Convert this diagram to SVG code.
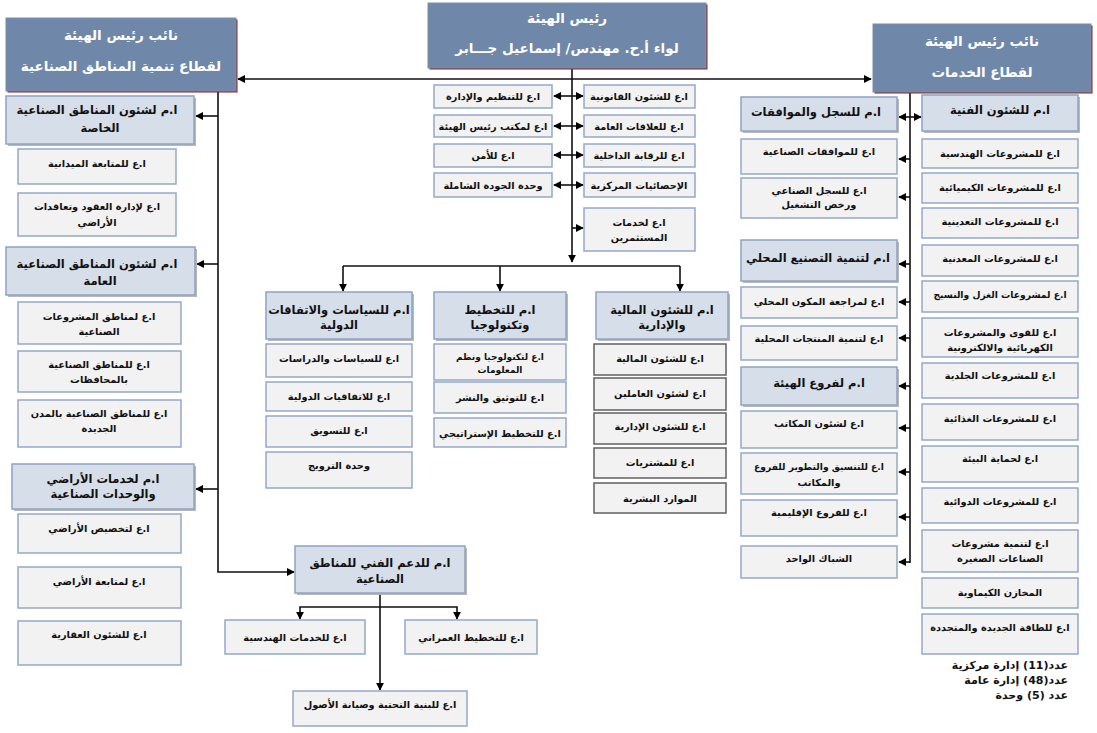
<svg xmlns="http://www.w3.org/2000/svg" width="1097" height="733" viewBox="0 0 1097 733">
<defs>
<marker id="ah" viewBox="0 0 10 10" refX="9" refY="5" markerWidth="8" markerHeight="8" markerUnits="userSpaceOnUse" orient="auto-start-reverse"><path d="M0,0 L10,5 L0,10 z" fill="#000"/></marker>
</defs>
<style>
text{font-family:"DejaVu Sans","Liberation Sans",sans-serif;font-weight:bold;text-anchor:middle;dominant-baseline:central;direction:rtl;fill:#111}
.tt{fill:#fff;font-size:13.5px}
.mt{font-size:11.5px}
.st{font-size:9.8px}
.sm{font-size:9px}
.top{fill:#6f88a9;stroke:#7d8fa8;stroke-width:1}
.tsh{fill:#8b1f1f}
.mg{fill:#d6dee9;stroke:#8ea3c4;stroke-width:1.5}
.msh{fill:#b8b8b8}
.sb{fill:#f2f2f2;stroke:#95a9c9;stroke-width:1.5}
.fb{fill:#f2f2f2;stroke:#606060;stroke-width:1.5}
.cn{fill:none;stroke:#111;stroke-width:1.6}
.ft{font-size:11px;text-anchor:start}
</style>
<rect width="1097" height="733" fill="#fff"/>

<g id="connectors">
<path class="cn" d="M238 79 H871" marker-start="url(#ah)" marker-end="url(#ah)"/>
<path class="cn" d="M572 68 V262" marker-end="url(#ah)"/>
<path class="cn" d="M343 266 H680"/>
<path class="cn" d="M343 266 V291" marker-end="url(#ah)"/>
<path class="cn" d="M500 266 V291" marker-end="url(#ah)"/>
<path class="cn" d="M680 266 V291" marker-end="url(#ah)"/>
<path class="cn" d="M554 96 H583" marker-start="url(#ah)" marker-end="url(#ah)"/>
<path class="cn" d="M554 126 H583" marker-start="url(#ah)" marker-end="url(#ah)"/>
<path class="cn" d="M554 155 H583" marker-start="url(#ah)" marker-end="url(#ah)"/>
<path class="cn" d="M554 185 H583" marker-start="url(#ah)" marker-end="url(#ah)"/>
<path class="cn" d="M572 228 H583" marker-end="url(#ah)"/>
<path class="cn" d="M218 91 V572 H294" marker-end="url(#ah)"/>
<path class="cn" d="M218 116 H196" marker-end="url(#ah)"/>
<path class="cn" d="M218 264 H197" marker-end="url(#ah)"/>
<path class="cn" d="M218 489 H196" marker-end="url(#ah)"/>
<path class="cn" d="M380 593 V690" marker-end="url(#ah)"/>
<path class="cn" d="M380 607 H300 V619" marker-end="url(#ah)"/>
<path class="cn" d="M380 607 H457 V619" marker-end="url(#ah)"/>
<path class="cn" d="M910 92 V563"/>
<path class="cn" d="M899 117 H921" marker-start="url(#ah)" marker-end="url(#ah)"/>
<path class="cn" d="M910 159 H899" marker-end="url(#ah)"/>
<path class="cn" d="M910 197 H899" marker-end="url(#ah)"/>
<path class="cn" d="M910 264 H899" marker-end="url(#ah)"/>
<path class="cn" d="M910 302 H899" marker-end="url(#ah)"/>
<path class="cn" d="M910 338 H899" marker-end="url(#ah)"/>
<path class="cn" d="M910 386 H899" marker-end="url(#ah)"/>
<path class="cn" d="M910 428 H899" marker-end="url(#ah)"/>
<path class="cn" d="M910 472 H899" marker-end="url(#ah)"/>
<path class="cn" d="M910 517 H899" marker-end="url(#ah)"/>
<path class="cn" d="M910 562 H899" marker-end="url(#ah)"/>
</g>

<!-- top level -->
<g id="vp-zones"><rect class="tsh" x="7.5" y="19.5" width="230" height="73"/><rect class="top" x="6" y="18" width="230" height="73"/>
<text class="tt" x="121" y="35">نائب رئيس الهيئة</text><text class="tt" x="121" y="66">لقطاع تنمية المناطق الصناعية</text></g>
<g id="chairman"><rect class="tsh" x="429.5" y="4.5" width="278" height="65"/><rect class="top" x="428" y="3" width="278" height="65"/>
<text class="tt" x="567" y="18">رئيس الهيئة</text><text class="tt" x="567" y="48">لواء أ.ح. مهندس/ إسماعيل جـــابر</text></g>
<g id="vp-services"><rect class="tsh" x="874.5" y="25.5" width="218" height="68"/><rect class="top" x="873" y="24" width="218" height="68"/>
<text class="tt" x="982" y="41">نائب رئيس الهيئة</text><text class="tt" x="982" y="72">لقطاع الخدمات</text></g>

<!-- left column -->
<g id="m-special"><rect class="msh" x="8" y="98" width="188" height="48"/><rect class="mg" x="6" y="96" width="188" height="48"/>
<text class="mt" x="97" y="110">ا.م لشئون المناطق الصناعية</text><text class="mt" x="100" y="128">الخاصة</text></g>
<g id="s-field"><rect class="sb" x="18" y="149" width="158" height="35"/><text class="st" x="97" y="163">ا.ع للمتابعة الميدانية</text></g>
<g id="s-contracts"><rect class="sb" x="18" y="193" width="158" height="43"/><text class="st" x="97" y="206">ا.ع لإدارة العقود وتعاقدات</text><text class="st" x="97" y="222">الأراضي</text></g>
<g id="m-general"><rect class="msh" x="8" y="249" width="189" height="48"/><rect class="mg" x="6" y="247" width="189" height="48"/>
<text class="mt" x="97" y="264">ا.م لشئون المناطق الصناعية</text><text class="mt" x="100" y="281">العامة</text></g>
<g id="s-projzones"><rect class="sb" x="18" y="302" width="163" height="42"/><text class="st" x="99" y="316">ا.ع لمناطق المشروعات</text><text class="st" x="99" y="331">الصناعية</text></g>
<g id="s-governorates"><rect class="sb" x="18" y="351" width="163" height="41"/><text class="st" x="99" y="364">ا.ع للمناطق الصناعية</text><text class="st" x="99" y="379">بالمحافظات</text></g>
<g id="s-newcities"><rect class="sb" x="18" y="400" width="163" height="47"/><text class="st" x="99" y="413">ا.ع للمناطق الصناعية بالمدن</text><text class="st" x="99" y="428">الجديدة</text></g>
<g id="m-lands"><rect class="msh" x="14" y="466" width="182" height="45"/><rect class="mg" x="12" y="464" width="182" height="45"/>
<text class="mt" x="103" y="479">ا.م لخدمات الأراضي</text><text class="mt" x="103" y="494">والوحدات الصناعية</text></g>
<g id="s-allocation"><rect class="sb" x="18" y="514" width="163" height="39"/><text class="st" x="99" y="528">ا.ع لتخصيص الأراضي</text></g>
<g id="s-landfollow"><rect class="sb" x="18" y="567" width="163" height="41"/><text class="st" x="99" y="581">ا.ع لمتابعة الأراضي</text></g>
<g id="s-realestate"><rect class="sb" x="18" y="621" width="163" height="44"/><text class="st" x="99" y="634">ا.ع للشئون العقارية</text></g>

<!-- bottom technical support -->
<g id="m-techsupport"><rect class="msh" x="297" y="548" width="170" height="47"/><rect class="mg" x="295" y="546" width="170" height="47"/>
<text class="mt" x="380" y="563">ا.م للدعم الفني للمناطق</text><text class="mt" x="380" y="579">الصناعية</text></g>
<g id="s-engservices"><rect class="sb" x="225" y="620" width="140" height="34"/><text class="st" x="295" y="637">ا.ع للخدمات الهندسية</text></g>
<g id="s-urban"><rect class="sb" x="405" y="620" width="132" height="34"/><text class="st" x="471" y="637">ا.ع للتخطيط العمراني</text></g>
<g id="s-infra"><rect class="sb" x="293" y="691" width="174" height="35"/><text class="st" x="380" y="704">ا.ع للبنية التحتية وصيانة الأصول</text></g>

<!-- center staff -->
<g id="c-org"><rect class="sb" x="434" y="85" width="118" height="23"/><text class="st" x="493" y="96">ا.ع للتنظيم والإدارة</text></g>
<g id="c-office"><rect class="sb" x="434" y="115" width="118" height="22"/><text class="st" x="493" y="126">ا.ع لمكتب رئيس الهيئة</text></g>
<g id="c-security"><rect class="sb" x="434" y="144" width="118" height="23"/><text class="st" x="493" y="155">ا.ع للأمن</text></g>
<g id="c-quality"><rect class="sb" x="434" y="173" width="118" height="24"/><text class="st" x="493" y="185">وحدة الجودة الشاملة</text></g>
<g id="c-legal"><rect class="sb" x="584" y="85" width="111" height="23"/><text class="st" x="639" y="96">ا.ع للشئون القانونية</text></g>
<g id="c-pr"><rect class="sb" x="584" y="115" width="111" height="22"/><text class="st" x="639" y="126">ا.ع للعلاقات العامة</text></g>
<g id="c-audit"><rect class="sb" x="584" y="144" width="111" height="23"/><text class="st" x="639" y="155">ا.ع للرقابة الداخلية</text></g>
<g id="c-stats"><rect class="sb" x="584" y="173" width="111" height="24"/><text class="st" x="639" y="185">الإحصائيات المركزية</text></g>
<g id="c-investors"><rect class="sb" x="584" y="208" width="111" height="43"/><text class="st" x="639" y="222">ا.ع لخدمات</text><text class="st" x="639" y="237">المستثمرين</text></g>

<!-- center three departments -->
<g id="m-policies"><rect class="msh" x="268" y="294" width="146" height="47"/><rect class="mg" x="266" y="292" width="146" height="47"/>
<text class="mt" x="339" y="310">ا.م للسياسات والاتفاقات</text><text class="mt" x="339" y="325">الدولية</text></g>
<g id="s-studies"><rect class="sb" x="266" y="344" width="146" height="33"/><text class="st" x="339" y="358">ا.ع للسياسات والدراسات</text></g>
<g id="s-agreements"><rect class="sb" x="266" y="382" width="146" height="29"/><text class="st" x="339" y="396">ا.ع للاتفاقيات الدولية</text></g>
<g id="s-marketing"><rect class="sb" x="266" y="416" width="146" height="31"/><text class="st" x="339" y="430">ا.ع للتسويق</text></g>
<g id="s-promotion"><rect class="sb" x="266" y="452" width="146" height="36"/><text class="st" x="339" y="465">وحدة الترويج</text></g>

<g id="m-planning"><rect class="msh" x="436" y="294" width="132" height="47"/><rect class="mg" x="434" y="292" width="132" height="47"/>
<text class="mt" x="500" y="310">ا.م للتخطيط</text><text class="mt" x="500" y="325">وتكنولوجيا</text></g>
<g id="s-it"><rect class="sb" x="434" y="344" width="132" height="36"/><text class="sm" x="500" y="357">ا.ع لتكنولوجيا ونظم</text><text class="sm" x="500" y="370">المعلومات</text></g>
<g id="s-docs"><rect class="sb" x="434" y="382" width="132" height="31"/><text class="st" x="500" y="397">ا.ع للتوثيق والنشر</text></g>
<g id="s-strategic"><rect class="sb" x="434" y="418" width="132" height="29"/><text class="st" x="500" y="433">ا.ع للتخطيط الإستراتيجي</text></g>

<g id="m-finance"><rect class="msh" x="598" y="294" width="132" height="47"/><rect class="mg" x="596" y="292" width="132" height="47"/>
<text class="mt" x="662" y="310">ا.م للشئون المالية</text><text class="mt" x="662" y="325">والإدارية</text></g>
<g id="s-financial"><rect class="fb" x="594" y="344" width="132" height="31"/><text class="st" x="660" y="358">ا.ع للشئون المالية</text></g>
<g id="s-staff"><rect class="fb" x="594" y="378" width="132" height="32"/><text class="st" x="660" y="393">ا.ع لشئون العاملين</text></g>
<g id="s-admin"><rect class="fb" x="594" y="413" width="132" height="31"/><text class="st" x="660" y="426">ا.ع للشئون الإدارية</text></g>
<g id="s-purchases"><rect class="fb" x="594" y="448" width="132" height="30"/><text class="st" x="660" y="462">ا.ع للمشتريات</text></g>
<g id="s-hr"><rect class="fb" x="594" y="483" width="132" height="30"/><text class="st" x="660" y="498">الموارد البشرية</text></g>

<!-- right services -->
<g id="m-registry"><rect class="msh" x="743" y="99" width="156" height="34"/><rect class="mg" x="741" y="97" width="156" height="34"/>
<text class="mt" x="816" y="112">ا.م للسجل والموافقات</text></g>
<g id="s-approvals"><rect class="sb" x="741" y="139" width="156" height="35"/><text class="st" x="819" y="151">ا.ع للموافقات الصناعية</text></g>
<g id="s-register"><rect class="sb" x="741" y="178" width="156" height="40"/><text class="st" x="819" y="190">ا.ع للسجل الصناعي</text><text class="st" x="819" y="204">ورخص التشغيل</text></g>
<g id="m-local"><rect class="msh" x="743" y="242" width="156" height="41"/><rect class="mg" x="741" y="240" width="156" height="41"/>
<text class="mt" x="818" y="258">ا.م لتنمية التصنيع المحلي</text></g>
<g id="s-localcomp"><rect class="sb" x="741" y="287" width="156" height="31"/><text class="st" x="819" y="301">ا.ع لمراجعة المكون المحلي</text></g>
<g id="s-localprod"><rect class="sb" x="741" y="326" width="156" height="34"/><text class="st" x="819" y="338">ا.ع لتنمية المنتجات المحلية</text></g>
<g id="m-branches"><rect class="msh" x="743" y="369" width="156" height="38"/><rect class="mg" x="741" y="367" width="156" height="38"/>
<text class="mt" x="819" y="383">ا.م لفروع الهيئة</text></g>
<g id="s-offices"><rect class="sb" x="741" y="411" width="156" height="37"/><text class="st" x="819" y="423">ا.ع لشئون المكاتب</text></g>
<g id="s-coord"><rect class="sb" x="741" y="453" width="156" height="41"/><text class="st" x="819" y="466" style="font-size:9.2px">ا.ع للتنسيق والتطوير للفروع</text><text class="st" x="819" y="482">والمكاتب</text></g>
<g id="s-regional"><rect class="sb" x="741" y="500" width="156" height="36"/><text class="st" x="819" y="512">ا.ع للفروع الإقليمية</text></g>
<g id="s-onestop"><rect class="sb" x="741" y="546" width="156" height="32"/><text class="st" x="819" y="558">الشباك الواحد</text></g>

<g id="m-technical"><rect class="msh" x="924" y="97" width="156" height="36"/><rect class="mg" x="922" y="95" width="156" height="36"/>
<text class="mt" x="1000" y="110">ا.م للشئون الفنية</text></g>
<g id="s-eng"><rect class="sb" x="922" y="139" width="156" height="29"/><text class="st" x="1000" y="153">ا.ع للمشروعات الهندسية</text></g>
<g id="s-chem"><rect class="sb" x="922" y="173" width="156" height="30"/><text class="st" x="1000" y="187">ا.ع للمشروعات الكيميائية</text></g>
<g id="s-mining"><rect class="sb" x="922" y="208" width="156" height="30"/><text class="st" x="1000" y="221">ا.ع للمشروعات التعدينية</text></g>
<g id="s-metal"><rect class="sb" x="922" y="245" width="156" height="31"/><text class="st" x="1000" y="258">ا.ع للمشروعات المعدنية</text></g>
<g id="s-textile"><rect class="sb" x="922" y="281" width="156" height="31"/><text class="st" x="1000" y="294" style="font-size:9.2px">ا.ع لمشروعات الغزل والنسيج</text></g>
<g id="s-power"><rect class="sb" x="922" y="318" width="156" height="39"/><text class="st" x="1000" y="332">ا.ع للقوى والمشروعات</text><text class="st" x="1000" y="347">الكهربائية والالكترونية</text></g>
<g id="s-leather"><rect class="sb" x="922" y="363" width="156" height="35"/><text class="st" x="1000" y="375">ا.ع للمشروعات الجلدية</text></g>
<g id="s-food"><rect class="sb" x="922" y="404" width="156" height="36"/><text class="st" x="1000" y="418">ا.ع للمشروعات الغذائية</text></g>
<g id="s-env"><rect class="sb" x="922" y="446" width="156" height="36"/><text class="st" x="1000" y="458">ا.ع لحماية البيئة</text></g>
<g id="s-pharma"><rect class="sb" x="922" y="488" width="156" height="35"/><text class="st" x="1000" y="501">ا.ع للمشروعات الدوائية</text></g>
<g id="s-small"><rect class="sb" x="922" y="530" width="156" height="42"/><text class="st" x="1000" y="543">ا.ع لتنمية مشروعات</text><text class="st" x="1000" y="558">الصناعات الصغيرة</text></g>
<g id="s-stores"><rect class="sb" x="922" y="578" width="156" height="30"/><text class="st" x="1000" y="592">المخازن الكيماوية</text></g>
<g id="s-energy"><rect class="sb" x="922" y="614" width="156" height="40"/><text class="st" x="1000" y="627">ا.ع للطاقة الجديدة والمتجددة</text></g>

<g id="footer">
<text class="ft" x="1068" y="665">عدد(11) إدارة مركزية</text>
<text class="ft" x="1068" y="680">عدد(48) إدارة عامة</text>
<text class="ft" x="1068" y="695">عدد (5) وحدة</text>
</g>
</svg>
